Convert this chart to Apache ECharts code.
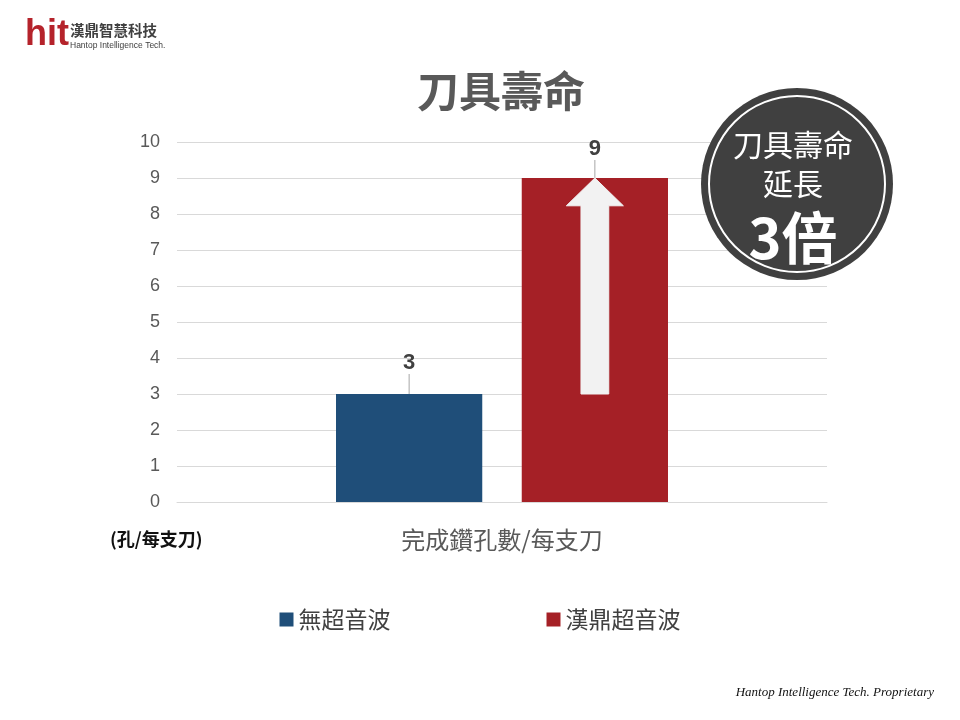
<!DOCTYPE html>
<html><head><meta charset="utf-8">
<script src="https://cdn.jsdelivr.net/npm/echarts@6/dist/echarts.min.js"></script>
<style>html,body{margin:0;padding:0;background:#fff}#c{width:960px;height:720px}</style>
</head><body><div id="c"></div>
<script>
const categories = ['完成鑽孔數/每支刀'];
const seriesNames = ['無超音波', '漢鼎超音波'];
const noUltrasonic = [3];
const hantopUltrasonic = [9];
const arrowRange = [[0, 3, 9]];
const yTicks = [0,1,2,3,4,5,6,7,8,9,10];

const BAR_W = 0.225, GAP = 0.27;
const chart = echarts.init(document.getElementById('c'));
const cjk = '"Noto Sans CJK TC","Noto Sans CJK SC",sans-serif';
chart.setOption({
  animation: false,
  textStyle: { fontFamily: cjk },
  title: { text: '刀具壽命', left: 412, top: 65, textStyle: { fontSize: 42, fontWeight: 'bold', color: '#595959', fontFamily: cjk } },
  grid: { left: 177, right: 133, top: 142, bottom: 218 },
  legend: {
    bottom: 84, left: 'center', itemWidth: 14, itemHeight: 14, itemGap: 156,
    icon: 'rect', textStyle: { fontSize: 23, color: '#404040', fontFamily: cjk },
    data: seriesNames
  },
  xAxis: {
    type: 'category', data: categories,
    axisLine: { lineStyle: { color: '#d9d9d9' } }, axisTick: { show: false },
    axisLabel: { fontSize: 24, color: '#595959', margin: 26 }
  },
  yAxis: {
    type: 'value', min: 0, max: 10, interval: 1,
    axisLine: { show: false }, axisTick: { show: false },
    axisLabel: { fontSize: 18, color: '#595959', margin: 17, fontFamily: 'Liberation Sans, Arial, sans-serif' },
    splitLine: { lineStyle: { color: '#d9d9d9', width: 1 } }
  },
  series: [
    { name: seriesNames[0], type: 'bar', data: noUltrasonic, barWidth: (BAR_W*100)+'%', barGap: (GAP*100)+'%',
      itemStyle: { color: '#1f4e79' },
      label: { show: true, position: 'top', distance: 2, fontSize: 22, fontWeight: 'bold', color: '#404040', fontFamily: 'Liberation Sans, Arial, sans-serif' },
      labelLayout: { dy: -18 }, labelLine: { show: true, lineStyle: { color: '#a6a6a6', width: 1 } } },
    { name: seriesNames[1], type: 'bar', data: hantopUltrasonic, barWidth: (BAR_W*100)+'%',
      itemStyle: { color: '#a52026' },
      label: { show: true, position: 'top', distance: 2, fontSize: 22, fontWeight: 'bold', color: '#404040', fontFamily: 'Liberation Sans, Arial, sans-serif' },
      labelLayout: { dy: -16 }, labelLine: { show: true, lineStyle: { color: '#a6a6a6', width: 1 } } },
    { type: 'custom', data: arrowRange, silent: true, z: 5,
      renderItem: function (params, api) {
        const band = api.size([1, 0])[0];
        const bw = band * BAR_W;
        const cx = api.coord([api.value(0), 0])[0] + (bw + bw * GAP) / 2;
        const yb = api.coord([api.value(0), api.value(1)])[1];
        const yt = api.coord([api.value(0), api.value(2)])[1];
        const shaft = bw * 0.19, head = bw * 0.39, headH = bw * 0.19;
        return { type: 'polygon', shape: { points: [
          [cx - shaft/2, yb], [cx - shaft/2, yt + headH], [cx - head/2, yt + headH], [cx, yt],
          [cx + head/2, yt + headH], [cx + shaft/2, yt + headH], [cx + shaft/2, yb]
        ] }, style: { fill: '#f2f2f2', stroke: '#f2f2f2' } };
      } }
  ],
  graphic: [
    { type: 'text', left: 25, top: 17, style: { text: 'hit', fontSize: 36, fontWeight: 'bold', fill: '#b5232b', fontFamily: 'Liberation Sans, Arial, sans-serif' } },
    { type: 'text', left: 70, top: 23, style: { text: '漢鼎智慧科技', fontSize: 14.5, fontWeight: 'bold', fill: '#404040', fontFamily: cjk } },
    { type: 'text', left: 70, top: 41, style: { text: 'Hantop Intelligence Tech.', fontSize: 8.5, fill: '#404040', fontFamily: 'Liberation Sans, Arial, sans-serif' } },
    { type: 'text', left: 110, top: 530, style: { text: '(孔/每支刀)', fontSize: 18, fontWeight: 'bold', fill: '#111', fontFamily: cjk } },
    { type: 'text', right: 26, top: 686, style: { text: 'Hantop Intelligence Tech. Proprietary', fontSize: 13, fontStyle: 'italic', fill: '#111', fontFamily: '"Liberation Serif","DejaVu Serif",serif' } },
    { type: 'circle', shape: { cx: 797, cy: 184, r: 96 }, style: { fill: '#404040' }, z: 10 },
    { type: 'circle', shape: { cx: 797, cy: 184, r: 88 }, style: { fill: 'none', stroke: '#ffffff', lineWidth: 2 }, z: 11 },
    { type: 'text', x: 793, y: 145, z: 12, style: { text: '刀具壽命', fontSize: 30, fill: '#fff', align: 'center', verticalAlign: 'middle', fontFamily: cjk } },
    { type: 'text', x: 793, y: 184, z: 12, style: { text: '延長', fontSize: 30, fill: '#fff', align: 'center', verticalAlign: 'middle', fontFamily: cjk } },
    { type: 'text', x: 793, y: 238, z: 12, style: { text: '3倍', fontSize: 56, fontWeight: 'bold', fill: '#fff', align: 'center', verticalAlign: 'middle', fontFamily: cjk } }
  ]
});
</script></body></html>
